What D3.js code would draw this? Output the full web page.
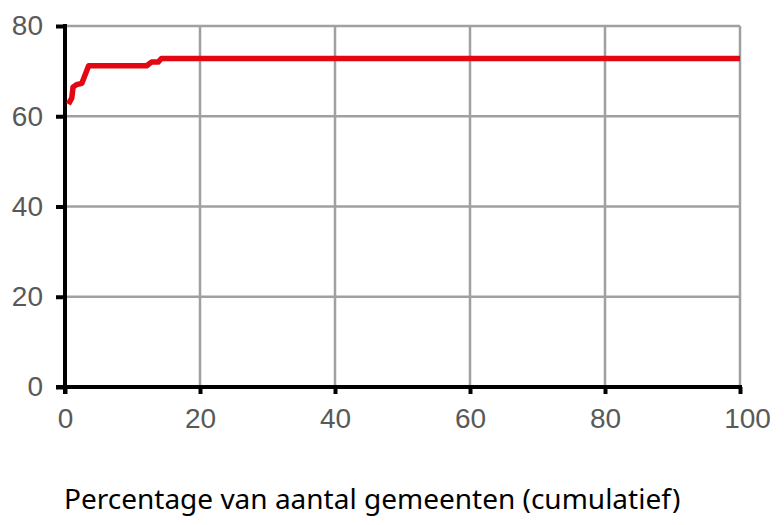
<!DOCTYPE html>
<html>
<head>
<meta charset="utf-8">
<script src="https://cdn.jsdelivr.net/npm/d3@7"></script>
<style>
  body { margin: 0; background: #fff; }
  svg { display: block; font-family: "Noto Sans", sans-serif; }
  .grid line { stroke: #a0a0a0; stroke-width: 2.5; }
  .axis path, .axis line { stroke: #000; stroke-width: 4; }
  .axis text { fill: #595959; font-size: 28px; }
</style>
</head>
<body>
<div id="chart"></div>
<script>
// cumulative share of municipalities (%) and value
var pct    = [0.5, 1.0, 1.2, 1.7, 2.5, 3.5, 12.1, 12.8, 13.8, 14.3, 100];
var values = [62.7, 64.0, 66.5, 67.0, 67.3, 71.2, 71.2, 72.0, 72.0, 72.8, 72.8];
var xTickValues = [0, 20, 40, 60, 80, 100];
var yTickValues = [0, 20, 40, 60, 80];
var xLabel = "Percentage van aantal gemeenten (cumulatief)";

var data = pct.map(function(p, i) { return {p: p, v: values[i]}; });

var w = 784, h = 525
    , margin = {top: 26, right: 44, bottom: 138, left: 65}
    , width = w - margin.left - margin.right
    , height = h - margin.top - margin.bottom
    ;

var svg = d3.select("#chart").append("svg")
    .attr("width", w)
    .attr("height", h);

var g = svg.append("g")
    .attr("transform", "translate(" + margin.left + "," + margin.top + ")");

var x = d3.scaleLinear().domain([0, 100]).range([0, width]);
var y = d3.scaleLinear().domain([0, 80]).range([height, 0]);

// grid
var grid = g.append("g").attr("class", "grid");
grid.selectAll(".gx")
    .data(xTickValues.filter(d => d > 0))
    .enter().append("line")
    .attr("x1", d => x(d)).attr("x2", d => x(d))
    .attr("y1", 0).attr("y2", height);
grid.selectAll(".gy")
    .data(yTickValues.filter(d => d > 0))
    .enter().append("line")
    .attr("x1", 0).attr("x2", width)
    .attr("y1", d => y(d)).attr("y2", d => y(d));

var xAxis = d3.axisBottom(x)
    .tickValues(xTickValues)
    .tickSizeInner(7)
    .tickSizeOuter(0)
    .tickPadding(14)
    .tickFormat(d3.format("d"));

var yAxis = d3.axisLeft(y)
    .tickValues(yTickValues)
    .tickSizeInner(9)
    .tickSizeOuter(0)
    .tickPadding(13)
    .tickFormat(d3.format("d"));

g.append("g")
    .attr("class", "axis axis--y")
    .call(yAxis);

g.append("g")
    .attr("class", "axis axis--x")
    .attr("transform", "translate(0," + height + ")")
    .call(xAxis);

g.select(".axis--x .domain").attr("d", "M-9,0H" + (width + 2));
g.select(".axis--y .domain").attr("d", "M0," + (height + 7) + "V-2");
g.selectAll(".axis--x .tick text").attr("dx", (d) => d === 100 ? "0.25em" : 0);

var line_gen = d3.line()
    .x(d => x(d.p))
    .y(d => y(d.v))
    .curve(d3.curveLinear);

g.append("path")
    .attr("d", line_gen(data))
    .attr("fill", "none")
    .attr("stroke", "#e30613")
    .attr("stroke-width", 5.5)
    .attr("stroke-linejoin", "round");

svg.append("text")
    .attr("x", 64)
    .attr("y", 509)
    .attr("font-size", 28)
    .attr("fill", "#000")
    .text(xLabel);
</script>
</body>
</html>
